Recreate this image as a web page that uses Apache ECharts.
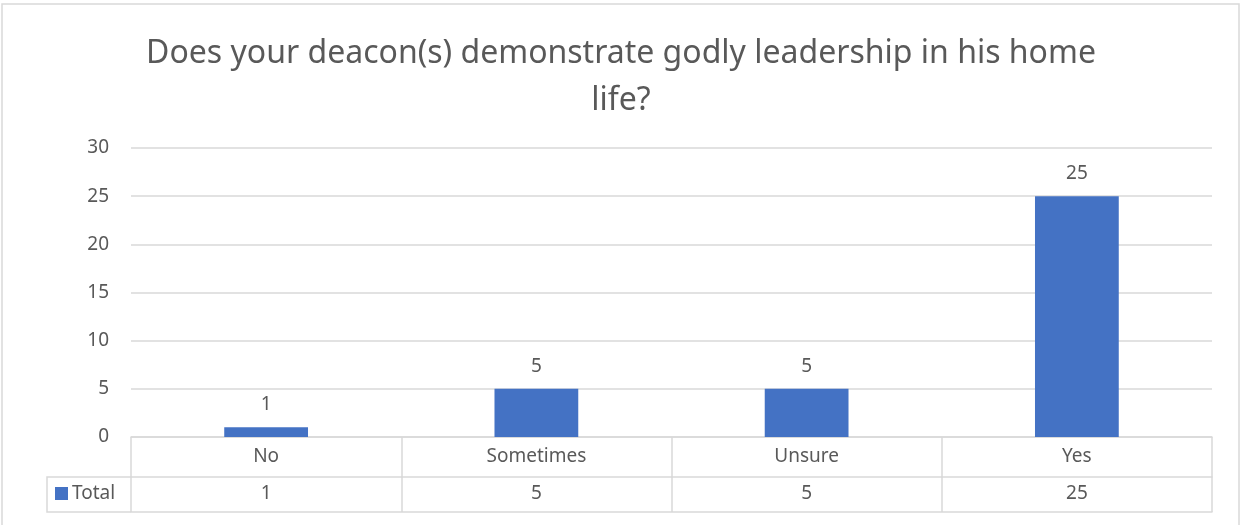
<!DOCTYPE html>
<html>
<head>
<meta charset="utf-8">
<script src="https://cdn.jsdelivr.net/npm/echarts@6/dist/echarts.min.js"></script>
<style>
  html, body { margin: 0; padding: 0; background: #fff; }
  #chart { width: 1242px; height: 525px; }
</style>
</head>
<body>
<div id="chart"></div>
<script>
const categories = ["No", "Sometimes", "Unsure", "Yes"];
const totals = [1, 5, 5, 25];
const yTicks = [0, 5, 10, 15, 20, 25, 30];

const FONT = "Noto Sans";
const TEXT = "#595959";
const LINE = "#d9d9d9";
const BLUE = "#4472C4";
const LABEL_SIZE = 19;

const chart = echarts.init(document.getElementById("chart"));

const options = {
  animation: false,
  textStyle: { fontFamily: FONT },
  title: {
    text: "Does your deacon(s) demonstrate godly leadership in his home\nlife?",
    left: "center",
    top: 25,
    textStyle: {
      color: TEXT,
      fontFamily: FONT,
      fontWeight: "normal",
      fontSize: 32,
      lineHeight: 47
    }
  },
  legend: {
    data: ["Total"],
    left: 50,
    top: 479,
    itemWidth: 13,
    itemHeight: 13,
    itemGap: 0,
    icon: "rect",
    textStyle: { color: TEXT, fontSize: LABEL_SIZE, padding: [0, 0, 0, -1] }
  },
  grid: { left: 131, right: 30, top: 148, bottom: 88 },
  xAxis: [
    {
      type: "category",
      data: categories,
      position: "bottom",
      axisLine: { show: true, lineStyle: { color: LINE, width: 1.5 } },
      axisTick: { show: true, length: 40, lineStyle: { color: LINE, width: 1.5 } },
      axisLabel: { color: TEXT, fontSize: LABEL_SIZE, margin: 10 }
    },
    {
      type: "category",
      data: totals.map(String),
      position: "bottom",
      offset: 40,
      axisLine: { show: true, lineStyle: { color: LINE, width: 1.5 } },
      axisTick: { show: true, length: 35, lineStyle: { color: LINE, width: 1.5 } },
      axisLabel: { color: TEXT, fontSize: LABEL_SIZE, margin: 7 }
    },
    {
      type: "category",
      data: categories,
      position: "bottom",
      offset: 75,
      axisLine: { show: true, lineStyle: { color: LINE, width: 1.5 } },
      axisTick: { show: false },
      axisLabel: { show: false }
    }
  ],
  yAxis: {
    type: "value",
    min: 0,
    max: yTicks[yTicks.length - 1],
    interval: 5,
    axisLine: { show: false },
    axisTick: { show: false },
    axisLabel: { color: TEXT, fontSize: LABEL_SIZE, margin: 22 },
    splitLine: { lineStyle: { color: LINE, width: 1.5 } }
  },
  series: [
    {
      name: "Total",
      type: "bar",
      xAxisIndex: 0,
      data: totals,
      barWidth: "31%",
      itemStyle: { color: BLUE },
      label: {
        show: true,
        position: "top",
        distance: 13,
        color: TEXT,
        fontSize: LABEL_SIZE
      }
    }
  ],
  graphic: [
    {
      type: "rect",
      shape: { x: 2, y: 4, width: 1237, height: 530 },
      style: { fill: "none", stroke: LINE, lineWidth: 1.5 },
      silent: true
    },
    {
      type: "polyline",
      shape: { points: [[131, 477], [47, 477], [47, 512], [131, 512]] },
      style: { fill: "none", stroke: LINE, lineWidth: 1.5 },
      silent: true
    }
  ]
};

chart.setOption(options);
</script>
</body>
</html>
